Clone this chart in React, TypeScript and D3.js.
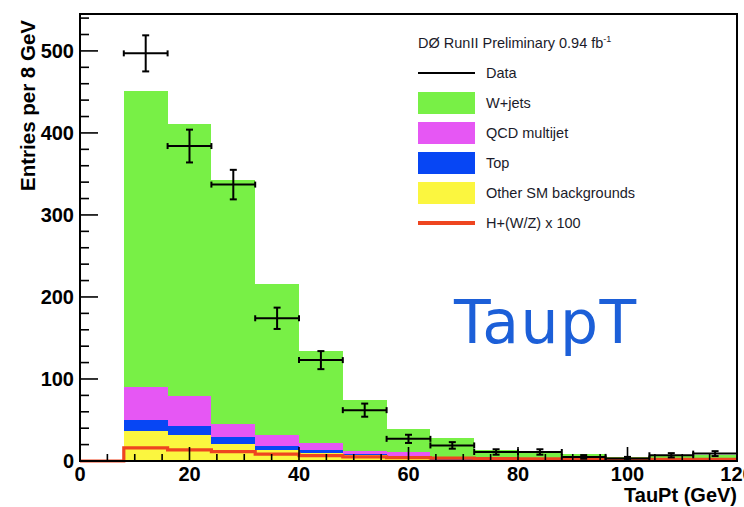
import React from "react";
import * as d3 from "d3";

// ---- data ----
const binLow = [8, 16, 24, 32, 40, 48, 56, 64, 72, 80, 88, 96, 104, 112];
const binWidth = 8;
const otherSM = [36.6, 31.7, 20.5, 13.4, 10, 7, 3, 1.5, 1, 0.8, 0.5, 0.3, 0.3, 0.3];
const topQ = [13.4, 11, 9, 5.3, 4, 2, 1, 0.5, 0.3, 0.2, 0.2, 0.1, 0.1, 0.1];
const qcd = [40, 36.3, 15.5, 13, 7.5, 3.6, 7, 1, 0.7, 0.5, 0.3, 0.1, 0.1, 0.1];
const wjets = [361, 332, 297, 184, 112.5, 61.4, 28, 25, 12, 10.5, 7, 4, 6.5, 6.5];
const signal = [16, 13.5, 11.5, 8.5, 6.5, 5, 4, 3.5, 3, 2.5, 2, 2, 2, 2];
const dataVals = [497, 384, 337, 174, 123, 62, 27, 19, 11, 11, 5, 3, 7, 9];
const dataErr = [22, 20, 18, 13, 11, 8, 5, 4, 3.3, 3.3, 2.2, 2, 2.6, 3];

const yTicks = [0, 100, 200, 300, 400, 500];
const xTicks = [0, 20, 40, 60, 80, 100, 120];

const layerKeys = ["other", "top", "qcd", "wjets"];
const layerColors: Record<string, string> = {
  other: "#fbf63f",
  top: "#0746f4",
  qcd: "#e657f4",
  wjets: "#78f046",
};
const signalColor = "#ee4520";

const legendItems = [
  { label: "Data", kind: "line", color: "#000" },
  { label: "W+jets", kind: "box", color: layerColors.wjets },
  { label: "QCD multijet", kind: "box", color: layerColors.qcd },
  { label: "Top", kind: "box", color: layerColors.top },
  { label: "Other SM backgrounds", kind: "box", color: layerColors.other },
  { label: "H+(W/Z) x 100", kind: "redline", color: signalColor },
];

export default function App() {
  const W = 744, H = 507;
  const left = 80, right = 737, top = 14, bottom = 461;
  const x = d3.scaleLinear().domain([0, 120]).range([left, right]);
  const y = d3.scaleLinear().domain([0, 545]).range([bottom, top]);

  const rows = binLow.map((lo, i) => ({
    lo,
    other: otherSM[i],
    top: topQ[i],
    qcd: qcd[i],
    wjets: wjets[i],
  }));
  const stacked = d3.stack<any>().keys(layerKeys)(rows);

  const sigPts: [number, number][] = [[0, 0]];
  binLow.forEach((lo, i) => sigPts.push([lo, signal[i]]));
  sigPts.push([binLow[binLow.length - 1] + binWidth, signal[signal.length - 1]]);
  const sigLine = d3
    .line<[number, number]>()
    .x((d) => x(d[0]))
    .y((d) => y(d[1]))
    .curve(d3.curveStepAfter)(sigPts);

  const xMinor = d3.range(0, 121, 5);
  const yMinor = d3.range(0, 545, 20);

  const font = "'Liberation Sans', Arial, Helvetica, sans-serif";

  return (
    <svg
      width={W}
      height={H}
      style={{ position: "absolute", left: 0, top: 0, background: "#fff" }}
    >
      <rect x={0} y={0} width={W} height={H} fill="#fff" />
      {/* stacked histogram */}
      <g shapeRendering="crispEdges">
        {stacked.map((layer) =>
          layer.map((d, i) => (
            <rect
              key={layer.key + i}
              x={x(d.data.lo)}
              width={x(d.data.lo + binWidth) - x(d.data.lo)}
              y={y(d[1])}
              height={Math.max(0, y(d[0]) - y(d[1]))}
              fill={layerColors[layer.key]}
            />
          ))
        )}
      </g>
      {/* signal line */}
      <path d={sigLine || ""} fill="none" stroke={signalColor} strokeWidth={3.2} />
      {/* data points */}
      <g stroke="#000" strokeWidth={2}>
        {dataVals.map((v, i) => {
          const cx = x(binLow[i] + binWidth / 2);
          const x0 = x(binLow[i]);
          const x1 = x(binLow[i] + binWidth);
          const yc = y(v);
          const yt = y(v + dataErr[i]);
          const yb = y(Math.max(0, v - dataErr[i]));
          return (
            <g key={i}>
              <line x1={x0} x2={x1} y1={yc} y2={yc} />
              <line x1={x0} x2={x0} y1={yc - 3} y2={yc + 3} />
              <line x1={x1} x2={x1} y1={yc - 3} y2={yc + 3} />
              <line x1={cx} x2={cx} y1={yt} y2={yb} />
              <line x1={cx - 3.5} x2={cx + 3.5} y1={yt} y2={yt} />
              <line x1={cx - 3.5} x2={cx + 3.5} y1={yb} y2={yb} />
            </g>
          );
        })}
      </g>
      {/* frame */}
      <rect
        x={left}
        y={top}
        width={right - left}
        height={bottom - top}
        fill="none"
        stroke="#000"
        strokeWidth={2}
      />
      {/* x ticks */}
      <g stroke="#000" strokeWidth={1.6}>
        {xMinor.map((t) => (
          <line
            key={"xt" + t}
            x1={x(t)}
            x2={x(t)}
            y1={bottom}
            y2={bottom - (t % 20 === 0 ? 14 : 7)}
          />
        ))}
        {yMinor.map((t) => (
          <line
            key={"yt" + t}
            x1={left}
            x2={left + (t % 100 === 0 ? 18 : 9)}
            y1={y(t)}
            y2={y(t)}
          />
        ))}
      </g>
      {/* tick labels */}
      <g fontFamily={font} fontWeight="bold" fontSize={20} fill="#000">
        {yTicks.map((t) => (
          <text key={"yl" + t} x={left - 6} y={y(t)} dy="0.35em" textAnchor="end">
            {t}
          </text>
        ))}
        {xTicks.map((t) => (
          <text key={"xl" + t} x={x(t)} y={bottom + 20} textAnchor="middle">
            {t}
          </text>
        ))}
        <text x={right} y={502} textAnchor="end">
          TauPt (GeV)
        </text>
        <text
          transform={`translate(35,20) rotate(-90)`}
          textAnchor="end"
          fontSize={20.5}
        >
          Entries per 8 GeV
        </text>
      </g>
      {/* legend */}
      <g fontFamily={font} fontSize={14.5} fill="#1b1b2a">
        <text x={418} y={48}>
          DØ RunII Preliminary 0.94 fb
          <tspan fontSize={9} dy={-6}>-1</tspan>
        </text>
        {legendItems.map((it, i) => {
          const cy = 73 + i * 30;
          return (
            <g key={it.label}>
              {it.kind === "line" && (
                <line x1={418} x2={475} y1={cy} y2={cy} stroke="#000" strokeWidth={2} />
              )}
              {it.kind === "redline" && (
                <line x1={418} x2={475} y1={cy} y2={cy} stroke={it.color} strokeWidth={4} />
              )}
              {it.kind === "box" && (
                <rect x={418} y={cy - 11} width={57} height={22} fill={it.color} />
              )}
              <text x={486} y={cy} dy="0.35em">
                {it.label}
              </text>
            </g>
          );
        })}
      </g>
      {/* annotation */}
      <text
        x={454}
        y={343}
        fontFamily="'DejaVu Sans', sans-serif"
        fontSize={60}
        fill="#1c5fd8"
        letterSpacing={1.5}
      >
        TaupT
      </text>
    </svg>
  );
}
